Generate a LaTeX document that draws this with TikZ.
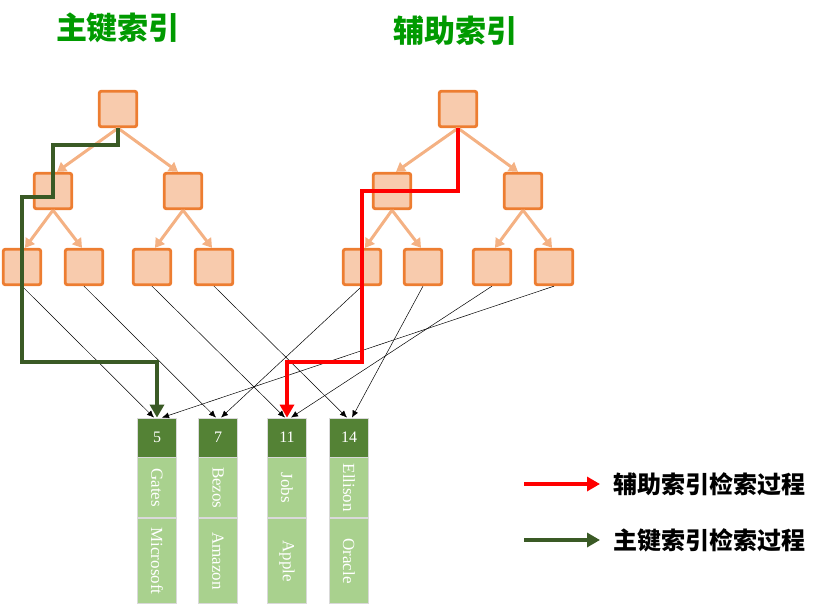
\documentclass[tikz,border=0pt]{standalone}
\usepackage{fontspec}
\setmainfont{Liberation Serif}
\newfontfamily\cjk{Noto Sans CJK SC}
\usetikzlibrary{arrows.meta,positioning,calc}
\definecolor{boxfill}{HTML}{F8CBAD}
\definecolor{boxline}{HTML}{ED7D31}
\definecolor{treeedge}{HTML}{F4B183}
\definecolor{keygreen}{HTML}{548235}
\definecolor{rowgreen}{HTML}{A9D18E}
\definecolor{pathgreen}{HTML}{3A5A25}
\definecolor{titlegreen}{HTML}{009A00}
\tikzstyle{tnode} = [rectangle,rounded corners=2pt,draw=boxline,fill=boxfill,line width=2.8pt,minimum width=37.5pt,minimum height=35.5pt,inner sep=0pt]
\tikzstyle{tedge} = [draw=treeedge,line width=3pt,-{Triangle[length=9pt,width=11pt]}]
\tikzstyle{keycell} = [rectangle,draw=black!15,line width=0.8pt,fill=keygreen,text=white,minimum width=39pt,minimum height=39pt,inner sep=0pt,font=\fontsize{16}{19}\selectfont]
\tikzstyle{rowcell} = [rectangle,draw=black!15,line width=0.8pt,fill=rowgreen,minimum width=39pt,inner sep=0pt]
\tikzstyle{rowtext} = [text=white,rotate=-90,font=\fontsize{17}{20}\selectfont]
\tikzstyle{ptr} = [black,line width=0.5pt,-{Latex[length=7pt,width=6pt]}]
\tikzstyle{redpath} = [red,line width=4pt,-{Triangle[length=13pt,width=14pt]}]
\tikzstyle{greenpath} = [pathgreen,line width=4pt,-{Triangle[length=13pt,width=14pt]}]
\tikzset{>=latex}

\begin{document}
\begin{tikzpicture}[x=1pt,y=-1pt]
    \useasboundingbox (0,0) rectangle (817,610);

    % titles
    \node [text=titlegreen,font=\cjk\bfseries\fontsize{31}{36}\selectfont] (ptitle) at (118,28) {主键索引};
    \node [text=titlegreen,font=\cjk\bfseries\fontsize{31}{36}\selectfont] (stitle) at (455,31) {辅助索引};

    % primary key tree
    \node [tnode] (proot) at (118,109) {};
    \node [tnode] (pl) at (53,191) {};
    \node [tnode] (pr) at (183,191) {};
    \node [tnode] (pll) at (22,267) {};
    \node [tnode] (plr) at (84,267) {};
    \node [tnode] (prl) at (152,267) {};
    \node [tnode] (prr) at (214,267) {};
    \draw [tedge] (proot.south) -- ([xshift=4pt]pl.north);
    \draw [tedge] (proot.south) -- ([xshift=-5pt]pr.north);
    \draw [tedge] (pl.south) -- ([xshift=3pt]pll.north);
    \draw [tedge] (pl.south) -- ([xshift=-2pt]plr.north);
    \draw [tedge] (pr.south) -- ([xshift=3pt]prl.north);
    \draw [tedge] (pr.south) -- ([xshift=-2pt]prr.north);

    % secondary index tree
    \node [tnode] (sroot) at (458,109) {};
    \node [tnode] (sl) at (392,191) {};
    \node [tnode] (sr) at (523,191) {};
    \node [tnode] (sll) at (362,267) {};
    \node [tnode] (slr) at (423,267) {};
    \node [tnode] (srl) at (492,267) {};
    \node [tnode] (srr) at (554,267) {};
    \draw [tedge] (sroot.south) -- ([xshift=4pt]sl.north);
    \draw [tedge] (sroot.south) -- ([xshift=-5pt]sr.north);
    \draw [tedge] (sl.south) -- ([xshift=3pt]sll.north);
    \draw [tedge] (sl.south) -- ([xshift=-2pt]slr.north);
    \draw [tedge] (sr.south) -- ([xshift=3pt]srl.north);
    \draw [tedge] (sr.south) -- ([xshift=-2pt]srr.north);

    % rows
    \node [keycell] (k5) at (157,437.5) {5};
    \node [keycell] (k7) at (218,437.5) {7};
    \node [keycell] (k11) at (287,437.5) {11};
    \node [keycell] (k14) at (349,437.5) {14};
    \node [rowcell,minimum height=60pt,below=0pt of k5] (n5) {};
    \node [rowcell,minimum height=60pt,below=0pt of k7] (n7) {};
    \node [rowcell,minimum height=60pt,below=0pt of k11] (n11) {};
    \node [rowcell,minimum height=60pt,below=0pt of k14] (n14) {};
    \node [rowcell,minimum height=85pt,below=0pt of n5] (c5) {};
    \node [rowcell,minimum height=85pt,below=0pt of n7] (c7) {};
    \node [rowcell,minimum height=85pt,below=0pt of n11] (c11) {};
    \node [rowcell,minimum height=85pt,below=0pt of n14] (c14) {};
    \node [rowtext] at (n5) {Gates};
    \node [rowtext] at (n7) {Bezos};
    \node [rowtext] at (n11) {Jobs};
    \node [rowtext] at (n14) {Ellison};
    \node [rowtext] at (c5) {Microsoft};
    \node [rowtext] at (c7) {Amazon};
    \node [rowtext] at (c11) {Apple};
    \node [rowtext] at (c14) {Oracle};

    % leaf pointers
    \draw [ptr] (pll.south) -- ([xshift=-3pt]k5.north);
    \draw [ptr] (plr.south) -- ([xshift=-2pt]k7.north);
    \draw [ptr] (prl.south) -- ([xshift=-2pt]k11.north);
    \draw [ptr] (prr.south) -- ([xshift=-2pt]k14.north);
    \draw [ptr] (sll.south) -- ([xshift=3pt]k7.north);
    \draw [ptr] (slr.south) -- ([xshift=3pt]k14.north);
    \draw [ptr] (srl.south) -- ([xshift=4pt]k11.north);
    \draw [ptr] (srr.south) -- ([xshift=5pt]k5.north);

    % search paths
    \coordinate (bend) at (0,362);
    \draw [greenpath] (proot.south) -- ++(0,17) -| ($(pl.center)+(0,6)$) -| (pll.center |- bend) -| (k5.north);
    \draw [redpath] (sroot.south) |- (sl.center -| sll.center) -- (sll.center |- bend) -| (k11.north);

    % legend
    \node [anchor=west,font=\cjk\bfseries\fontsize{24}{28}\selectfont] (redlabel) at (610,484) {辅助索引检索过程};
    \node [anchor=west,font=\cjk\bfseries\fontsize{24}{28}\selectfont] (greenlabel) at (610,540) {主键索引检索过程};
    \coordinate (redstart) at (524,484);
    \coordinate (greenstart) at (524,540);
    \draw [redpath] (redstart) -- ([xshift=-10pt]redlabel.west);
    \draw [greenpath] (greenstart) -- ([xshift=-10pt]greenlabel.west);
\end{tikzpicture}
\end{document}
